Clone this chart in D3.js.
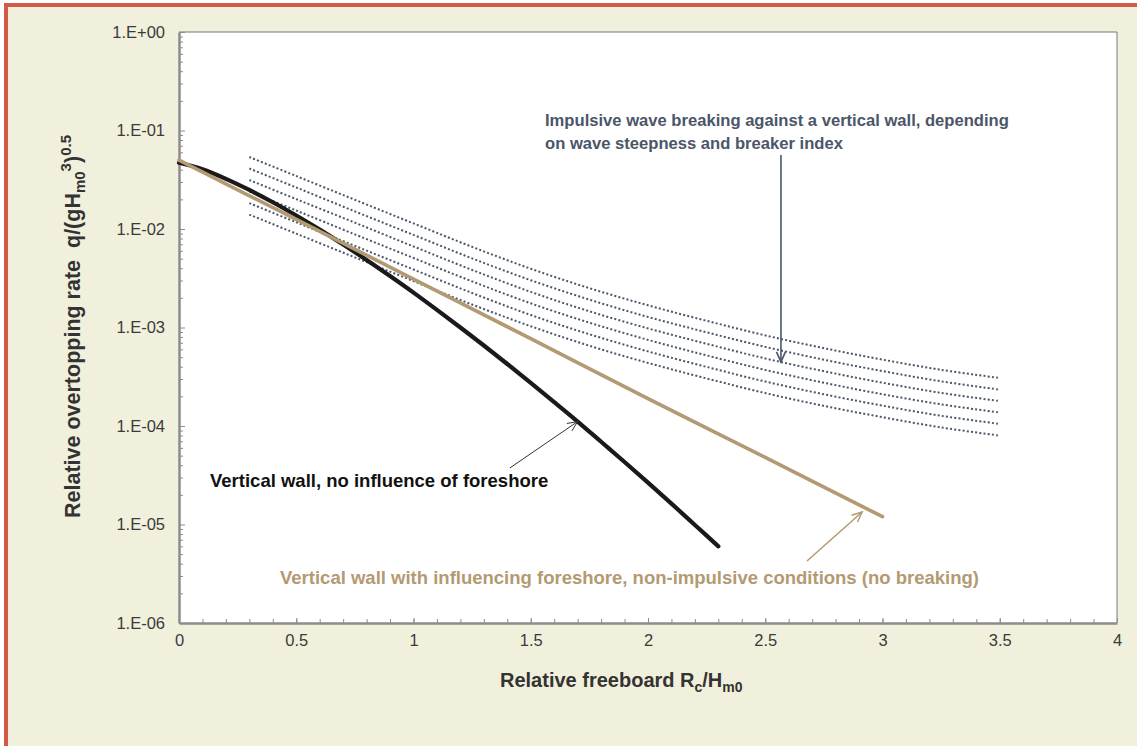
<!DOCTYPE html>
<html>
<head>
<meta charset="utf-8">
<script src="https://cdn.jsdelivr.net/npm/d3@7"></script>
<style>
  body { margin: 0; background: #fff; }
  text { font-family: "Liberation Sans", Arial, sans-serif; }
</style>
</head>
<body>
<svg id="chart" width="1137" height="746"></svg>
<script>
// Values
const xTicks = [0, 0.5, 1, 1.5, 2, 2.5, 3, 3.5, 4];
const xTickLabels = ["0", "0.5", "1", "1.5", "2", "2.5", "3", "3.5", "4"];
const yTicks = [1, 1e-1, 1e-2, 1e-3, 1e-4, 1e-5, 1e-6];
const yTickLabels = ["1.E+00", "1.E-01", "1.E-02", "1.E-03", "1.E-04", "1.E-05", "1.E-06"];

// vertical wall, influencing foreshore (brown)
const xForeshore = [0, 0.5, 1, 1.5, 2, 2.5, 3];
const qForeshore = [0.05, 0.0125, 0.0031, 0.00077, 0.00019, 0.000048, 0.000012];

// vertical wall, no influence of foreshore (black)
const xNoForeshore = [0, 0.1, 0.2, 0.3, 0.4, 0.5, 0.6, 0.7, 0.8, 0.9, 1.0, 1.1,
  1.2, 1.3, 1.4, 1.5, 1.6, 1.7, 1.8, 1.9, 2.0, 2.1, 2.2, 2.3];
const qNoForeshore = [0.047, 0.0404, 0.0323, 0.0249, 0.0187, 0.0137, 0.00985, 0.00696,
  0.00485, 0.00333, 0.00226, 0.00151, 0.00100, 0.000656, 0.000426, 0.000274, 0.000175,
  0.000111, 0.0000692, 0.0000431, 0.0000266, 0.0000163, 0.0000099, 0.0000060];

// impulsive breaking, dotted family
const xImpulsive = [0.3, 0.5, 0.75, 1.0, 1.25, 1.5, 1.75, 2.0, 2.25, 2.5, 2.75, 3.0, 3.25, 3.5];
const impulsive1 = [0.0538, 0.0345, 0.0198, 0.0114, 0.00659, 0.00395, 0.00251, 0.00168, 0.00117, 0.000832, 0.000617, 0.000472, 0.000372, 0.000307];
const impulsive2 = [0.0411, 0.0264, 0.0151, 0.00871, 0.00503, 0.00302, 0.00192, 0.00128, 0.000894, 0.000636, 0.000471, 0.000361, 0.000284, 0.000234];
const impulsive3 = [0.0314, 0.0201, 0.0116, 0.00665, 0.00384, 0.00230, 0.00146, 0.00098, 0.000683, 0.000485, 0.000360, 0.000275, 0.000217, 0.000179];
const impulsive4 = [0.0240, 0.0154, 0.00882, 0.00508, 0.00294, 0.00176, 0.00112, 0.000749, 0.000521, 0.000371, 0.000275, 0.000210, 0.000166, 0.000137];
const impulsive5 = [0.0183, 0.0117, 0.00674, 0.00388, 0.00224, 0.00134, 0.000854, 0.000572, 0.000398, 0.000283, 0.000210, 0.000161, 0.000127, 0.000105];
const impulsive6 = [0.0140, 0.00897, 0.00515, 0.00296, 0.00171, 0.00103, 0.000653, 0.000437, 0.000304, 0.000216, 0.000160, 0.000123, 0.0000967, 0.0000798];
const impulsiveSeries = [impulsive1, impulsive2, impulsive3, impulsive4, impulsive5, impulsive6];

const svg = d3.select('#chart');

// page frame: beige panel with red top/left border
svg.append('rect').attr('x', 4).attr('y', 3).attr('width', 1133).attr('height', 743).attr('fill', '#d25a49');
svg.append('rect').attr('x', 8).attr('y', 7).attr('width', 1129).attr('height', 739).attr('fill', '#f1f0dc');

const x = d3.scaleLinear().domain([0, 4]).range([179, 1117]);
const y = d3.scaleLog().domain([1e-6, 1]).range([623, 32]);

svg.append('rect')
    .attr('x', x(0)).attr('y', y(1))
    .attr('width', x(4) - x(0)).attr('height', y(1e-6) - y(1))
    .attr('fill', '#fff');

// top and right frame
svg.append('path')
    .attr('d', `M${x(0)},${y(1)}H${x(4)}V${y(1e-6)}`)
    .attr('fill', 'none')
    .style('stroke', '#737889')
    .style('stroke-width', 1);

// minor ticks
const yMinor = [];
for (let d = 1e-6; d < 1; d *= 10) {
    for (let k = 2; k <= 9; k++) yMinor.push(d * k);
}
const xMinor = d3.range(0, 41).map(i => i / 10);

svg.append('g')
    .attr('transform', `translate(${x(0)},0)`)
    .call(d3.axisLeft(y).tickValues(yMinor).tickSize(-4).tickFormat(''))
    .call(g => g.select('.domain').remove())
    .call(g => g.selectAll('line').style('stroke', '#8c8c8c'));

svg.append('g')
    .attr('transform', `translate(0,${y(1e-6)})`)
    .call(d3.axisBottom(x).tickValues(xMinor).tickSize(-4).tickFormat(''))
    .call(g => g.select('.domain').remove())
    .call(g => g.selectAll('line').style('stroke', '#8c8c8c'));

// major axes
svg.append('g')
    .attr('transform', `translate(${x(0)},0)`)
    .call(d3.axisLeft(y).tickValues(yTicks).tickSize(-6).tickSizeOuter(0).tickPadding(14)
        .tickFormat((d, i) => yTickLabels[i]))
    .call(g => g.select('.domain').style('stroke', '#8c8c8c').style('stroke-width', 2.5))
    .call(g => g.selectAll('line').style('stroke', '#8c8c8c'))
    .call(g => g.selectAll('text').style('font-size', '16.5px').style('fill', '#3b3b3b')
        .style('font-family', '"Liberation Sans", Arial, sans-serif'));

svg.append('g')
    .attr('transform', `translate(0,${y(1e-6)})`)
    .call(d3.axisBottom(x).tickValues(xTicks).tickSize(-5).tickSizeOuter(0).tickPadding(11)
        .tickFormat((d, i) => xTickLabels[i]))
    .call(g => g.select('.domain').style('stroke', '#8c8c8c').style('stroke-width', 2.5))
    .call(g => g.selectAll('line').style('stroke', '#8c8c8c'))
    .call(g => g.selectAll('text').style('font-size', '16.5px').style('fill', '#3b3b3b')
        .style('font-family', '"Liberation Sans", Arial, sans-serif'));

// lines
const line = d3.line()
    .x(d => x(d[0]))
    .y(d => y(d[1]))
    .curve(d3.curveCatmullRom.alpha(0.5));

impulsiveSeries.forEach(s => {
    svg.append('path')
        .datum(xImpulsive.map((v, i) => [v, s[i]]))
        .attr('d', line)
        .attr('fill', 'none')
        .style('stroke', '#4b5669')
        .style('stroke-width', 2)
        .style('stroke-dasharray', '2,2.2');
});

svg.append('path')
    .datum(xNoForeshore.map((v, i) => [v, qNoForeshore[i]]))
    .attr('d', line)
    .attr('fill', 'none')
    .style('stroke', '#1a1a1a')
    .style('stroke-width', 4.2)
    .style('stroke-linecap', 'round');

svg.append('path')
    .datum(xForeshore.map((v, i) => [v, qForeshore[i]]))
    .attr('d', line)
    .attr('fill', 'none')
    .style('stroke', '#b39a72')
    .style('stroke-width', 3.6)
    .style('stroke-linecap', 'round');

// annotation arrows (from / to in data units)
function arrow(x0, q0, x1, q1, color, width) {
    const ax = x(x0), ay = y(q0), bx = x(x1), by = y(q1);
    const ang = Math.atan2(by - ay, bx - ax);
    const len = 11, spread = 0.42;
    svg.append('line')
        .attr('x1', ax).attr('y1', ay).attr('x2', bx).attr('y2', by)
        .style('stroke', color).style('stroke-width', width);
    svg.append('path')
        .attr('d', `M${bx - len * Math.cos(ang - spread)},${by - len * Math.sin(ang - spread)}` +
            `L${bx},${by}L${bx - len * Math.cos(ang + spread)},${by - len * Math.sin(ang + spread)}`)
        .attr('fill', 'none')
        .style('stroke', color).style('stroke-width', width);
}

arrow(2.567, 0.0564, 2.567, 0.000447, '#4b5669', 1.6);
arrow(1.411, 0.0000375, 1.70, 0.000111, '#333', 1);
arrow(2.678, 0.00000426, 2.913, 0.0000134, '#b39a72', 1.5);

// annotation texts
svg.append('text')
    .attr('x', 545).attr('y', 126)
    .style('font-size', '16.6px').style('font-weight', 'bold').style('fill', '#4b5669')
    .text('Impulsive wave breaking against a vertical wall, depending');
svg.append('text')
    .attr('x', 545).attr('y', 149)
    .style('font-size', '16.6px').style('font-weight', 'bold').style('fill', '#4b5669')
    .text('on wave steepness and breaker index');

svg.append('text')
    .attr('x', 210).attr('y', 487)
    .style('font-size', '18.5px').style('font-weight', 'bold').style('fill', '#111')
    .text('Vertical wall, no influence of foreshore');

svg.append('text')
    .attr('x', 280).attr('y', 584)
    .style('font-size', '18.5px').style('font-weight', 'bold').style('fill', '#b39a72')
    .text('Vertical wall with influencing foreshore, non-impulsive conditions (no breaking)');

// axis titles
const xt = svg.append('text')
    .attr('x', 500).attr('y', 687)
    .style('font-size', '20px').style('font-weight', 'bold').style('fill', '#333');
xt.append('tspan').text('Relative freeboard R');
xt.append('tspan').attr('dy', 5).style('font-size', '14px').text('c');
xt.append('tspan').attr('dy', -5).text('/H');
xt.append('tspan').attr('dy', 5).style('font-size', '14px').text('m0');

const yt = svg.append('text')
    .attr('transform', 'translate(80,518) rotate(-90)')
    .style('font-size', '21.5px').style('font-weight', 'bold').style('fill', '#333');
yt.append('tspan').text('Relative overtopping rate\u00a0\u00a0q/(gH');
yt.append('tspan').attr('dy', 5).style('font-size', '15px').text('m0');
yt.append('tspan').attr('dy', -14).style('font-size', '15px').text('3');
yt.append('tspan').attr('dy', 9).text(')');
yt.append('tspan').attr('dy', -9).style('font-size', '15px').text('0.5');
</script>
</body>
</html>
